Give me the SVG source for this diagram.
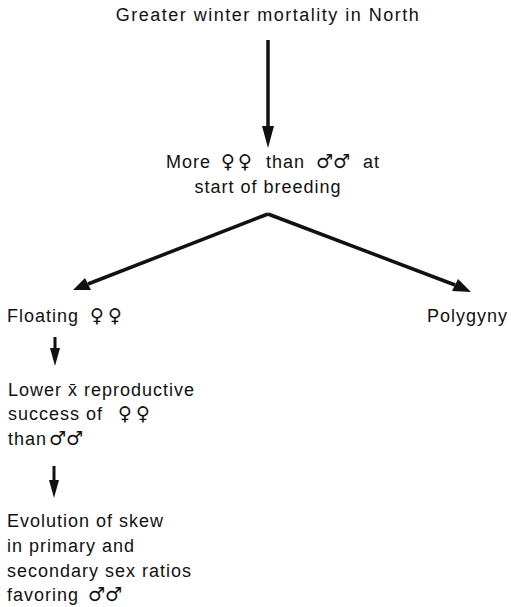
<svg xmlns="http://www.w3.org/2000/svg" width="511" height="607" viewBox="0 0 511 607">
<style>
text{font-family:"Liberation Sans",Arial,sans-serif;font-size:18px;letter-spacing:1px;fill:#111}
.c{text-anchor:middle}
.t{letter-spacing:1.5px}
.s{font-family:"DejaVu Sans",sans-serif;font-weight:bold;font-size:19px;letter-spacing:0}
.ln{stroke:#111;stroke-width:3.5;fill:none}
.sm{stroke:#111;stroke-width:3;fill:none}
</style>
<rect width="511" height="607" fill="#fff"/>
<g id="connectors">
<line class="ln" x1="268" y1="40" x2="268" y2="128"/>
<path d="M262,126 L274,126 L268,148 z" fill="#111"/>
<path class="ln" d="M268,214 L88,284"/>
<path d="M73,290 L85,278 L91,290 z" fill="#111"/>
<path class="ln" d="M268,214 L455,285"/>
<path d="M471,292 L452,291 L458,279 z" fill="#111"/>
<line class="sm" x1="55" y1="337" x2="55" y2="350"/>
<path d="M50,348 L60,348 L55,366 z" fill="#111"/>
<line class="sm" x1="54" y1="466" x2="54" y2="482"/>
<path d="M49,480 L59,480 L54,498 z" fill="#111"/>
</g>
<g id="n1"><text class="c t" x="268" y="21">Greater winter mortality in North</text></g>
<g id="n2">
<text y="168"><tspan x="166">More</tspan><tspan class="s" x="221">♀</tspan><tspan class="s" x="238">♀</tspan><tspan x="266">than</tspan><tspan class="s" x="316">♂</tspan><tspan class="s" x="333">♂</tspan><tspan x="363">at</tspan></text>
<text class="c" x="268" y="193">start of breeding</text>
</g>
<g id="n3"><text y="322"><tspan x="7">Floating</tspan><tspan class="s" x="90">♀</tspan><tspan class="s" x="108">♀</tspan></text></g>
<g id="n4"><text x="427" y="322">Polygyny</text></g>
<g id="n5">
<text x="8" y="396">Lower x̄ reproductive</text>
<text y="420"><tspan x="8">success of</tspan><tspan class="s" x="118">♀</tspan><tspan class="s" x="136">♀</tspan></text>
<text y="445"><tspan x="8">than</tspan><tspan class="s" x="49">♂</tspan><tspan class="s" x="66">♂</tspan></text>
</g>
<g id="n6">
<text x="7" y="527">Evolution of skew</text>
<text x="7" y="552">in primary and</text>
<text x="7" y="577">secondary sex ratios</text>
<text y="601"><tspan x="7">favoring</tspan><tspan class="s" x="88">♂</tspan><tspan class="s" x="105">♂</tspan></text>
</g>
</svg>
